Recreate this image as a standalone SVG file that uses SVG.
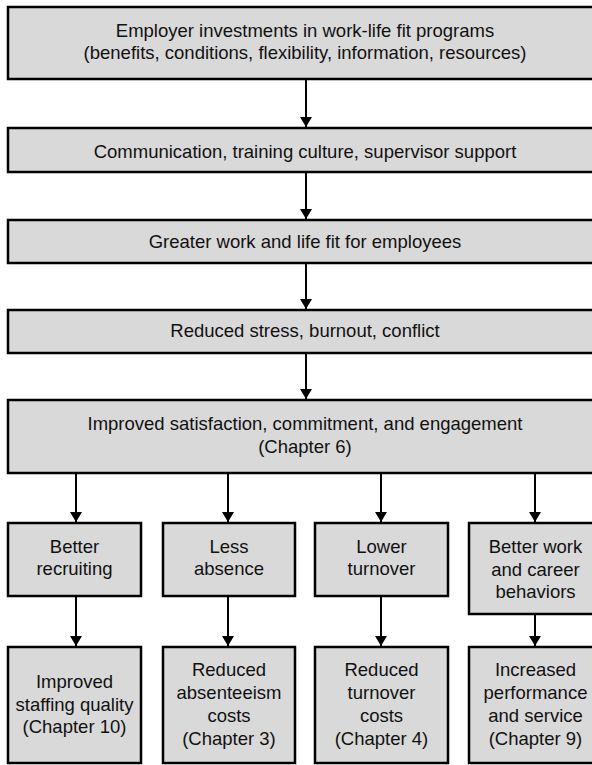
<svg xmlns="http://www.w3.org/2000/svg" width="592" height="765" viewBox="0 0 592 765">
  <defs>
    <marker id="arrow" viewBox="0 0 10 12" refX="10" refY="6" markerWidth="10" markerHeight="12" markerUnits="userSpaceOnUse" orient="auto">
      <path d="M0,0 L10,6 L0,12 Z" fill="#000"/>
    </marker>
    <style>
      .box { fill: #d9d9d9; stroke: #000; stroke-width: 2.5; }
      .lbl { font-family: "Liberation Sans", Arial, sans-serif; font-size: 18.5px; fill: #111; text-anchor: middle; }
      .conn line { stroke: #000; stroke-width: 2; marker-end: url(#arrow); }
    </style>
  </defs>
  <rect width="592" height="765" fill="#fff"/>

  <g id="investments">
    <rect class="box" x="8" y="7" width="594" height="72"/>
    <text class="lbl" x="305" y="37">Employer investments in work-life fit programs</text>
    <text class="lbl" x="305" y="59">(benefits, conditions, flexibility, information, resources)</text>
  </g>
  <g id="communication">
    <rect class="box" x="8" y="128" width="594" height="44"/>
    <text class="lbl" x="305" y="158">Communication, training culture, supervisor support</text>
  </g>
  <g id="fit">
    <rect class="box" x="8" y="220" width="594" height="43"/>
    <text class="lbl" x="305" y="248">Greater work and life fit for employees</text>
  </g>
  <g id="stress">
    <rect class="box" x="8" y="310" width="594" height="43"/>
    <text class="lbl" x="305" y="337">Reduced stress, burnout, conflict</text>
  </g>
  <g id="satisfaction">
    <rect class="box" x="8" y="400" width="594" height="73"/>
    <text class="lbl" x="305" y="430">Improved satisfaction, commitment, and engagement</text>
    <text class="lbl" x="305" y="453">(Chapter 6)</text>
  </g>

  <g id="recruiting">
    <rect class="box" x="8" y="523" width="133" height="73"/>
    <text class="lbl" x="74.5" y="553">Better</text>
    <text class="lbl" x="74.5" y="575">recruiting</text>
  </g>
  <g id="absence">
    <rect class="box" x="163" y="523" width="132" height="73"/>
    <text class="lbl" x="229" y="553">Less</text>
    <text class="lbl" x="229" y="575">absence</text>
  </g>
  <g id="turnover">
    <rect class="box" x="315" y="523" width="133" height="73"/>
    <text class="lbl" x="381.5" y="553">Lower</text>
    <text class="lbl" x="381.5" y="575">turnover</text>
  </g>
  <g id="behaviors">
    <rect class="box" x="469" y="523" width="133" height="91"/>
    <text class="lbl" x="535.5" y="553">Better work</text>
    <text class="lbl" x="535.5" y="576">and career</text>
    <text class="lbl" x="535.5" y="598">behaviors</text>
  </g>

  <g id="staffing">
    <rect class="box" x="8" y="647" width="133" height="116"/>
    <text class="lbl" x="74.5" y="688">Improved</text>
    <text class="lbl" x="74.5" y="711">staffing quality</text>
    <text class="lbl" x="74.5" y="733">(Chapter 10)</text>
  </g>
  <g id="absenteeism">
    <rect class="box" x="163" y="647" width="132" height="116"/>
    <text class="lbl" x="229" y="676">Reduced</text>
    <text class="lbl" x="229" y="699">absenteeism</text>
    <text class="lbl" x="229" y="722">costs</text>
    <text class="lbl" x="229" y="745">(Chapter 3)</text>
  </g>
  <g id="turnover-costs">
    <rect class="box" x="315" y="647" width="133" height="116"/>
    <text class="lbl" x="381.5" y="676">Reduced</text>
    <text class="lbl" x="381.5" y="699">turnover</text>
    <text class="lbl" x="381.5" y="722">costs</text>
    <text class="lbl" x="381.5" y="745">(Chapter 4)</text>
  </g>
  <g id="performance">
    <rect class="box" x="469" y="647" width="133" height="116"/>
    <text class="lbl" x="535.5" y="676">Increased</text>
    <text class="lbl" x="535.5" y="699">performance</text>
    <text class="lbl" x="535.5" y="722">and service</text>
    <text class="lbl" x="535.5" y="745">(Chapter 9)</text>
  </g>

  <g id="connectors" class="conn">
    <line x1="306" y1="80" x2="306" y2="127"/>
    <line x1="306" y1="173" x2="306" y2="219"/>
    <line x1="306" y1="264" x2="306" y2="309"/>
    <line x1="306" y1="354" x2="306" y2="399"/>
    <line x1="76" y1="474" x2="76" y2="522"/>
    <line x1="228" y1="474" x2="228" y2="522"/>
    <line x1="381" y1="474" x2="381" y2="522"/>
    <line x1="535" y1="474" x2="535" y2="522"/>
    <line x1="76" y1="597" x2="76" y2="646"/>
    <line x1="228" y1="597" x2="228" y2="646"/>
    <line x1="381" y1="597" x2="381" y2="646"/>
    <line x1="535" y1="615" x2="535" y2="646"/>
  </g>
</svg>
